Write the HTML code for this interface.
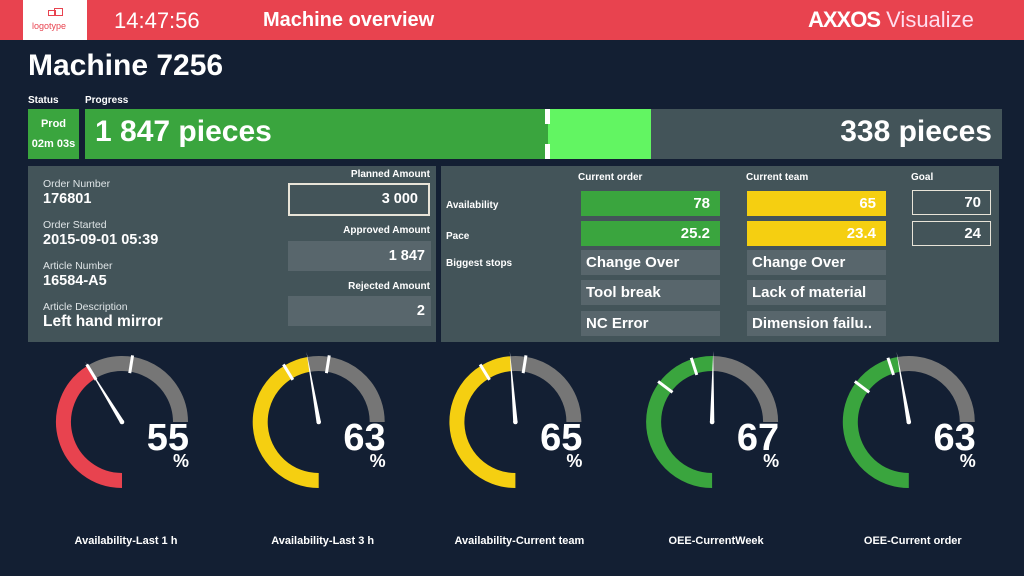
<!DOCTYPE html>
<html><head><meta charset="utf-8"><style>
*{margin:0;padding:0;box-sizing:border-box}
body{width:1024px;height:576px;background:#131f33;font-family:"Liberation Sans",sans-serif;color:#fff;position:relative;overflow:hidden}
.a{position:absolute}
.b{font-weight:bold}
.panel{background:#435459}
.lbl{font-size:10px;font-weight:bold}
.sm{font-size:10.5px;color:#dfe5e7}
.val{font-size:14.5px;font-weight:bold}
.cell{position:absolute;height:25px;font-size:15px;font-weight:bold;line-height:25px}
.num{text-align:right;padding-right:10px}
.stop{background:#58666c;padding-left:5px}
</style></head><body>
<div class="a" style="left:0;top:0;width:1024px;height:40px;background:#e8434f"></div>
<div class="a" style="left:23px;top:0;width:64px;height:40px;background:#fff">
  <div class="a" style="left:25px;top:10px;width:8px;height:6px;border:1.5px solid #e8434f"></div>
  <div class="a" style="left:31px;top:8px;width:9px;height:8px;border:1.5px solid #e8434f"></div>
  <div class="a" style="left:9px;top:21px;font-size:9px;color:#e8434f">logotype</div>
</div>
<div class="a" style="left:114px;top:8px;font-size:22px">14:47:56</div>
<div class="a b" style="left:263px;top:9px;font-size:20px">Machine overview</div>
<div class="a" style="left:808px;top:7px;font-size:22px"><span class="b" style="letter-spacing:-1px">AXXOS</span> <span style="font-weight:300;color:#fde">Visualize</span></div>

<div class="a b" style="left:28px;top:49px;font-size:30px">Machine 7256</div>
<div class="a lbl" style="left:28px;top:95px">Status</div>
<div class="a lbl" style="left:85px;top:95px">Progress</div>
<div class="a b" style="left:28px;top:109px;width:51px;height:50px;background:#3aa53e;font-size:11px;text-align:center;line-height:20px;padding-top:5px">Prod<br>02m 03s</div>

<div class="a panel" style="left:85px;top:109px;width:917px;height:50px">
  <div class="a" style="left:0;top:0;width:463px;height:50px;background:#3aa53e"></div>
  <div class="a" style="left:463px;top:0;width:103px;height:50px;background:#62f562"></div>
  <div class="a" style="left:460px;top:0;width:5px;height:50px;background:linear-gradient(#fff 0 30%,transparent 30% 70%,#fff 70%)"></div>
  <div class="a b" style="left:10px;top:6px;font-size:30px">1 847 pieces</div>
  <div class="a b" style="right:10px;top:6px;font-size:30px">338 pieces</div>
</div>

<div class="a panel" style="left:28px;top:166px;width:408px;height:176px">
  <div class="a sm" style="left:15px;top:12px">Order Number</div>
  <div class="a val" style="left:15px;top:25px">176801</div>
  <div class="a sm" style="left:15px;top:53px">Order Started</div>
  <div class="a val" style="left:15px;top:66px">2015-09-01 05:39</div>
  <div class="a sm" style="left:15px;top:94px">Article Number</div>
  <div class="a val" style="left:15px;top:107px">16584-A5</div>
  <div class="a sm" style="left:15px;top:135px">Article Description</div>
  <div class="a val" style="left:15px;top:147px;font-size:15.5px">Left hand mirror</div>
  <div class="a lbl" style="right:6px;top:3px">Planned Amount</div>
  <div class="a val num" style="left:260px;top:17px;width:142px;height:33px;border:2px solid #e8e4d8;line-height:29px">3 000</div>
  <div class="a lbl" style="right:6px;top:59px">Approved Amount</div>
  <div class="a val num" style="left:260px;top:75px;width:143px;height:30px;background:#58666c;line-height:30px;padding-right:6px">1 847</div>
  <div class="a lbl" style="right:6px;top:115px">Rejected Amount</div>
  <div class="a val num" style="left:260px;top:130px;width:143px;height:30px;background:#58666c;line-height:30px;padding-right:6px">2</div>
</div>

<div class="a panel" style="left:441px;top:166px;width:558px;height:176px">
  <div class="a lbl" style="left:137px;top:6px">Current order</div>
  <div class="a lbl" style="left:305px;top:6px">Current team</div>
  <div class="a lbl" style="left:470px;top:6px">Goal</div>
  <div class="a lbl" style="left:5px;top:34px">Availability</div>
  <div class="a lbl" style="left:5px;top:65px">Pace</div>
  <div class="a lbl" style="left:5px;top:92px">Biggest stops</div>
  <div class="cell num" style="left:140px;top:25px;width:139px;background:#3aa53e">78</div>
  <div class="cell num" style="left:140px;top:55px;width:139px;background:#3aa53e">25.2</div>
  <div class="cell num" style="left:306px;top:25px;width:139px;background:#f5cf11">65</div>
  <div class="cell num" style="left:306px;top:55px;width:139px;background:#f5cf11">23.4</div>
  <div class="cell num" style="left:471px;top:24px;width:79px;border:1.5px solid #e8e4d8;line-height:23px;padding-right:9px">70</div>
  <div class="cell num" style="left:471px;top:55px;width:79px;border:1.5px solid #e8e4d8;line-height:23px;padding-right:9px">24</div>
  <div class="cell stop" style="left:140px;top:84px;width:139px">Change Over</div>
  <div class="cell stop" style="left:140px;top:114px;width:139px">Tool break</div>
  <div class="cell stop" style="left:140px;top:145px;width:139px">NC Error</div>
  <div class="cell stop" style="left:306px;top:84px;width:139px">Change Over</div>
  <div class="cell stop" style="left:306px;top:114px;width:139px">Lack of material</div>
  <div class="cell stop" style="left:306px;top:145px;width:139px">Dimension failu..</div>
</div>

<svg class="a" id="gauges" style="left:0;top:0" width="1024" height="576"></svg>
<script>
const gaugeLabels=["Availability-Last 1 h","Availability-Last 3 h","Availability-Current team","OEE-CurrentWeek","OEE-Current order"];
const gaugeValues=[55,63,65,67,63];
const gaugeColors=["#e8434f","#f5cf11","#f5cf11","#3aa53e","#3aa53e"];
const tickLow=[55,55,55,47,47];
const tickHigh=[70,70,70,60,60];
const NS="http://www.w3.org/2000/svg";
const svg=document.getElementById('gauges');
const cx0=122,dx=196.7,cy=422,R=58.5,W=15;
function ang(p){return (180+p*2.7)*Math.PI/180;}
function pt(cx,p,r){const a=ang(p);return [cx+r*Math.sin(a),cy-r*Math.cos(a)];}
function arc(cx,p1,p2,col){
  const s=pt(cx,p1,R),e=pt(cx,p2,R);const large=(p2-p1)*2.7>180?1:0;
  const el=document.createElementNS(NS,'path');
  el.setAttribute('d',`M${s[0]} ${s[1]} A${R} ${R} 0 ${large} 1 ${e[0]} ${e[1]}`);
  el.setAttribute('stroke',col);el.setAttribute('stroke-width',W);el.setAttribute('fill','none');
  return el;
}
gaugeValues.forEach((v,i)=>{
  const cx=cx0+i*dx;
  const g=document.createElementNS(NS,'g');
  
  
  const bg=arc(cx,v,100,'#767676');
  
  
  g.appendChild(bg);
  const fg=arc(cx,0,v,gaugeColors[i]);
  
  
  g.appendChild(fg);
  [tickLow[i],tickHigh[i]].forEach(t=>{
    const a=pt(cx,t,R-9),b=pt(cx,t,R+9);
    const l=document.createElementNS(NS,'line');
    
    
    l.setAttribute('x1',a[0]);l.setAttribute('y1',a[1]);l.setAttribute('x2',b[0]);l.setAttribute('y2',b[1]);
    l.setAttribute('stroke','#fff');l.setAttribute('stroke-width',3);
    g.appendChild(l);
  });
  const tip=pt(cx,v,71),an=ang(v),px=Math.cos(an)*2.2,py=Math.sin(an)*2.2;
  const n=document.createElementNS(NS,'polygon');
  
  
  n.setAttribute('points',`${cx+px},${cy+py} ${tip[0]},${tip[1]} ${cx-px},${cy-py}`);
  n.setAttribute('fill','#fff');g.appendChild(n);
  const c=document.createElementNS(NS,'circle');
  c.setAttribute('cx',cx);c.setAttribute('cy',cy);c.setAttribute('r',2.3);c.setAttribute('fill','#fff');g.appendChild(c);
  const t=document.createElementNS(NS,'text');
  
  
  t.setAttribute('x',cx+67);t.setAttribute('y',cy+28);t.setAttribute('text-anchor','end');
  t.setAttribute('font-size','38');t.setAttribute('font-weight','bold');t.setAttribute('fill','#fff');
  t.setAttribute('font-family','Liberation Sans, sans-serif');
  t.textContent=v;g.appendChild(t);
  const pc=document.createElementNS(NS,'text');
  
  
  pc.setAttribute('x',cx+67);pc.setAttribute('y',cy+45);pc.setAttribute('text-anchor','end');
  pc.setAttribute('font-size','18');pc.setAttribute('font-weight','bold');pc.setAttribute('fill','#fff');
  pc.setAttribute('font-family','Liberation Sans, sans-serif');
  pc.textContent='%';g.appendChild(pc);
  const lb=document.createElementNS(NS,'text');
  
  
  lb.setAttribute('x',cx+4);lb.setAttribute('y',544);lb.setAttribute('text-anchor','middle');
  lb.setAttribute('font-size','11');lb.setAttribute('font-weight','bold');lb.setAttribute('fill','#fff');
  lb.setAttribute('font-family','Liberation Sans, sans-serif');
  lb.textContent=gaugeLabels[i];g.appendChild(lb);
  svg.appendChild(g);
});
</script>
</body></html>
